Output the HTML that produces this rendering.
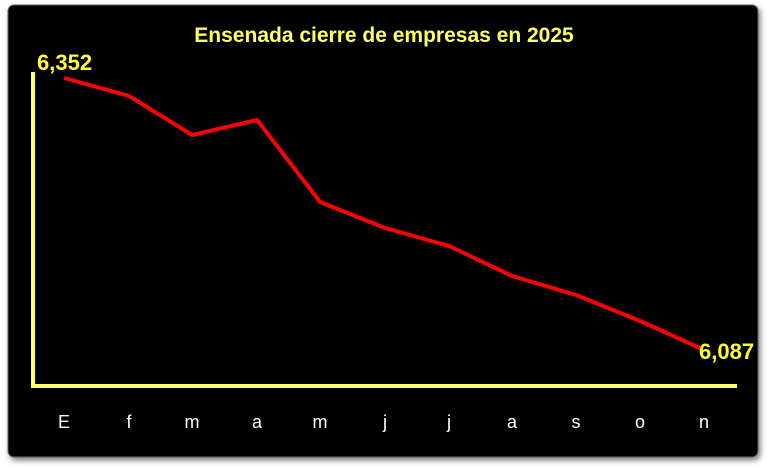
<!DOCTYPE html>
<html><head><style>
body{margin:0;background:#fff;width:767px;height:468px;overflow:hidden}
</style></head><body>
<svg width="767" height="468" xmlns="http://www.w3.org/2000/svg" style="position:absolute;left:0;top:0">
<defs><filter id="s" x="-5%" y="-5%" width="110%" height="110%"><feDropShadow dx="2" dy="3" stdDeviation="3" flood-color="#000" flood-opacity="0.5"/></filter></defs>
<rect x="8" y="5" width="750" height="452" rx="6" fill="#000" stroke="#666" stroke-width="1" filter="url(#s)"/>
<text x="384" y="42" text-anchor="middle" font-family="Liberation Sans, sans-serif" font-weight="bold" font-size="21" fill="#ffff66">Ensenada cierre de empresas en 2025</text>
<polyline points="33,72 33,386 737,386" fill="none" stroke="#ffff66" stroke-width="4"/>
<polyline points="64,78 129,96 192,135 257,120 320,202 385,228 449,246 512,276 576,295 640,321 702,349" fill="none" stroke="#ff0000" stroke-width="4" stroke-linejoin="round"/>
<text x="37" y="70" font-family="Liberation Sans, sans-serif" font-weight="bold" font-size="22" fill="#ffff33">6,352</text>
<text x="699" y="359" font-family="Liberation Sans, sans-serif" font-weight="bold" font-size="22" fill="#ffff33">6,087</text>
<g font-family="Liberation Sans, sans-serif" font-size="18" fill="#fff" text-anchor="middle">
<text x="64" y="428">E</text><text x="129" y="428">f</text><text x="192" y="428">m</text><text x="257" y="428">a</text><text x="320" y="428">m</text><text x="385" y="428">j</text><text x="449" y="428">j</text><text x="512" y="428">a</text><text x="576" y="428">s</text><text x="640" y="428">o</text><text x="704" y="428">n</text>
</g>
</svg>
</body></html>
